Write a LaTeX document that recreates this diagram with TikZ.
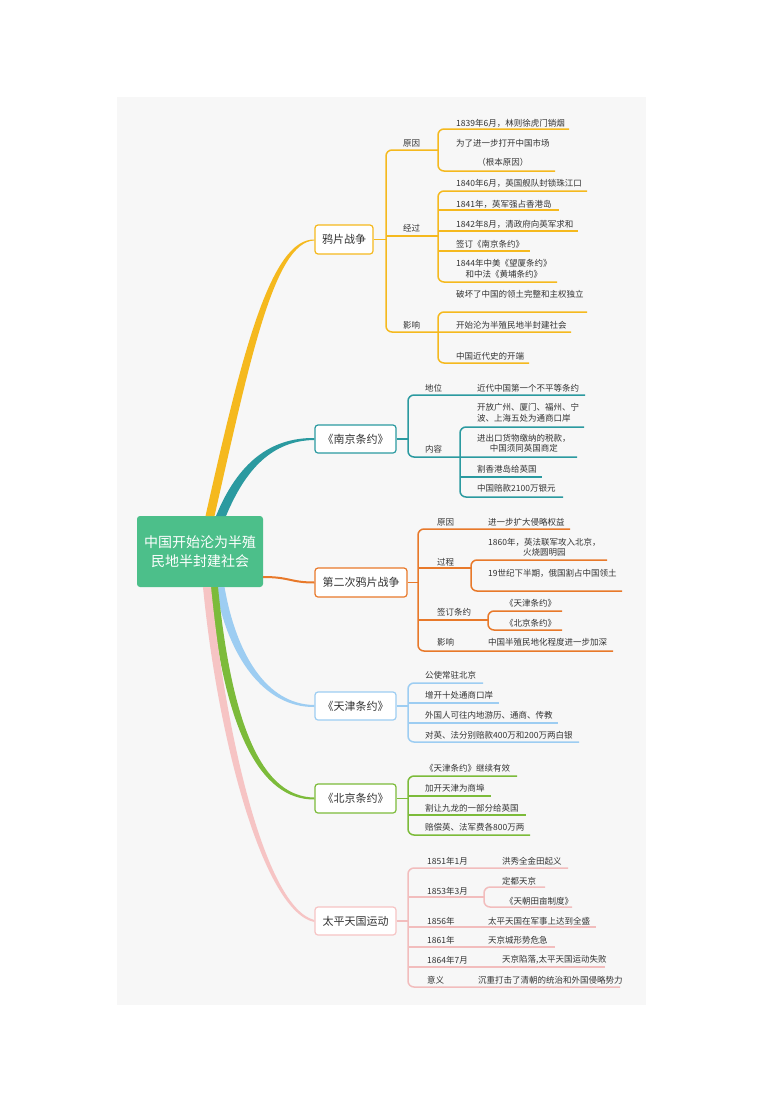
\documentclass[tikz,border=0pt]{standalone}
\usepackage{fontspec}
\setmainfont{Noto Sans CJK SC}
\definecolor{txt}{HTML}{333333}
\definecolor{bg}{HTML}{F7F7F7}
\definecolor{rootc}{HTML}{4CBF8A}
\definecolor{yel}{HTML}{F5B91E}
\definecolor{tea}{HTML}{2B9AA0}
\definecolor{ora}{HTML}{E8792A}
\definecolor{blu}{HTML}{9DCDF2}
\definecolor{grn}{HTML}{7CBB3A}
\definecolor{pnk}{HTML}{F6C4C4}
\definecolor{pnkl}{HTML}{F2BDBD}
\tikzset{
  leaf/.style={anchor=west, inner sep=0pt, text=txt, font=\fontsize{8.5}{10.5}\selectfont},
  topic/.style={draw, fill=white, rounded corners=3pt, line width=1.2pt, text=txt,
    inner sep=0pt, font=\fontsize{11}{13}\selectfont, minimum height=29pt},
  ln/.style={line width=1.5pt, rounded corners=6pt},
  rootbox/.style={fill=rootc, rounded corners=3pt, text=white, align=center,
    font=\fontsize{14}{19}\selectfont, minimum width=126pt, minimum height=71pt, inner sep=0pt}
}
\begin{document}
\begin{tikzpicture}[x=1pt,y=-1pt]
\useasboundingbox (0,0) rectangle (780,1103);
\fill[white] (0,0) rectangle (780,1103);
\fill[bg] (117,97) rectangle (646,1005);

% root
\node[rootbox] (root) at (200,551.5) {中国开始沦为半殖\\民地半封建社会};

% topics
\node[topic, draw=yel, minimum width=58pt] (o1) at (344,239.5) {鸦片战争};
\node[topic, draw=tea, minimum width=81pt, minimum height=28pt] (n1) at (355.5,439) {《南京条约》};
\node[topic, draw=ora, minimum width=92pt] (s1) at (361,582.5) {第二次鸦片战争};
\node[topic, draw=blu, minimum width=81pt, minimum height=28pt] (t1) at (355.5,706) {《天津条约》};
\node[topic, draw=grn, minimum width=81pt] (b1) at (355.5,798.5) {《北京条约》};
\node[topic, draw=pnk, minimum width=81pt, minimum height=28pt] (p1) at (355.5,921) {太平天国运动};

% main branches (tapered)
\fill[yel] (205.5,516) .. controls (241,358) and (270,238.5) .. (o1.west) -- ([yshift=-1pt]o1.west)
  .. controls (274,241.5) and (249.5,362) .. (214.5,516) -- cycle;
\fill[tea] (216,516) .. controls (238,462) and (271,437.5) .. ([yshift=1pt]n1.west) -- ([yshift=-1pt]n1.west)
  .. controls (273,440.5) and (246,468) .. (226,516) -- cycle;
\draw[ora, line width=2pt] (root.east |- 0,577) .. controls (290,577) and (290,582.5) .. (s1.west);
\fill[blu] (215.5,587) .. controls (228,657) and (264,707.5) .. ([yshift=-1pt]t1.west) -- ([yshift=1pt]t1.west)
  .. controls (266,704.5) and (236,653) .. (224.5,587) -- cycle;
\fill[grn] (210,587) .. controls (224,732) and (261,800) .. ([yshift=-1pt]b1.west) -- ([yshift=1pt]b1.west)
  .. controls (263,797) and (232,728) .. (218,587) -- cycle;
\fill[pnk] (203,587) .. controls (218,742) and (264,912) .. ([yshift=-1pt]p1.west) -- ([yshift=1pt]p1.west)
  .. controls (266,908) and (226,738) .. (211,587) -- cycle;

% ===== 鸦片战争 =====
\begin{scope}[every node/.style={leaf}]
\node (oa) at (403,143) {原因};
\node (ob) at (403,228) {经过};
\node (oc) at (403,325) {影响};
\node (oa1) at (456,123) {1839年6月，林则徐虎门销烟};
\node[align=center] (oa2) at (456,153) {为了进一步打开中国市场\\[9pt]（根本原因）};
\node (ob1) at (456,183) {1840年6月，英国舰队封锁珠江口};
\node (ob2) at (456,204) {1841年，英军强占香港岛};
\node (ob3) at (456,224) {1842年8月，清政府向英军求和};
\node (ob4) at (456,244) {签订《南京条约》};
\node[align=center] (ob5) at (456,269) {1844年中美《望厦条约》\\和中法《黄埔条约》};
\node (oc0) at (456,294) {破坏了中国的领土完整和主权独立};
\node (oc1) at (456,325) {开始沦为半殖民地半封建社会};
\node (oc2) at (456,356) {中国近代史的开端};
\end{scope}
\begin{scope}[yel, ln]
\draw (o1.east) -- (386,239.5);
\draw (438,150) -- (386,150) -- (386,332) -- (571,332);
\draw (386,236) -- (438,236);
\draw (569,129) -- (438,129) -- (438,171) -- (555,171);
\draw (587,191) -- (438,191) -- (438,282) -- (557,282);
\draw (438,210) -- (559,210);
\draw (438,231) -- (578,231);
\draw (438,251) -- (530,251);
\draw (587,312) -- (438,312) -- (438,363) -- (529,363);
\end{scope}

% ===== 南京条约 =====
\begin{scope}[every node/.style={leaf}]
\node (na) at (425,388) {地位};
\node (nb) at (425,449) {内容};
\node (na1) at (477,388) {近代中国第一个不平等条约};
\node[align=left] (nb1) at (477,413) {开放广州、厦门、福州、宁\\波、上海五处为通商口岸};
\node[align=center] (nb2) at (477,443.5) {进出口货物缴纳的税款，\\中国须同英国商定};
\node (nb3) at (477,469) {割香港岛给英国};
\node (nb4) at (477,488) {中国赔款2100万银元};
\end{scope}
\begin{scope}[tea, ln]
\draw (n1.east) -- (408,439);
\draw (585,395) -- (408,395) -- (408,457) -- (577,457);
\draw (584,427) -- (460,427) -- (460,497) -- (563,497);
\draw (460,477) -- (542,477);
\end{scope}

% ===== 第二次鸦片战争 =====
\begin{scope}[every node/.style={leaf}]
\node (sa) at (437,522) {原因};
\node (sb) at (437,562) {过程};
\node (sc) at (437,612) {签订条约};
\node (sd) at (437,642) {影响};
\node (sa1) at (488,522) {进一步扩大侵略权益};
\node[align=center] (sb1) at (488,547.5) {1860年，英法联军攻入北京，\\火烧圆明园};
\node (sb2) at (488,573) {19世纪下半期，俄国割占中国领土};
\node (sc1) at (505,603) {《天津条约》};
\node (sc2) at (505,623) {《北京条约》};
\node (sd1) at (488,642) {中国半殖民地化程度进一步加深};
\end{scope}
\begin{scope}[ora, ln]
\draw (s1.east) -- (418,582.5);
\draw (570,529) -- (418,529) -- (418,651) -- (613,651);
\draw (418,568) -- (471,568);
\draw (607,560) -- (471,560) -- (471,591) -- (622,591);
\draw (418,620) -- (488,620);
\draw (562,611) -- (488,611) -- (488,630) -- (562,630);
\end{scope}

% ===== 天津条约 =====
\begin{scope}[every node/.style={leaf}]
\node (t1a) at (425,675) {公使常驻北京};
\node (t1b) at (425,695) {增开十处通商口岸};
\node (t1c) at (425,715) {外国人可往内地游历、通商、传教};
\node (t1d) at (425,735) {对英、法分别赔款400万和200万两白银};
\end{scope}
\begin{scope}[blu, ln]
\draw (t1.east) -- (408,706);
\draw (483,683) -- (408,683) -- (408,742) -- (579,742);
\draw (408,703) -- (499,703);
\draw (408,723) -- (558,723);
\end{scope}

% ===== 北京条约 =====
\begin{scope}[every node/.style={leaf}]
\node (b1a) at (425,768) {《天津条约》继续有效};
\node (b1b) at (425,788) {加开天津为商埠};
\node (b1c) at (425,808) {割让九龙的一部分给英国};
\node (b1d) at (425,827) {赔偿英、法军费各800万两};
\end{scope}
\begin{scope}[grn, ln]
\draw (b1.east) -- (408,798.5);
\draw (517,776) -- (408,776) -- (408,835) -- (530,835);
\draw (408,796) -- (491,796);
\draw (408,815) -- (526,815);
\end{scope}

% ===== 太平天国运动 =====
\begin{scope}[every node/.style={leaf}]
\node (pa) at (427,861) {1851年1月};
\node (pb) at (427,891) {1853年3月};
\node (pc) at (427,921) {1856年};
\node (pd) at (427,940) {1861年};
\node (pe) at (427,960) {1864年7月};
\node (pf) at (427,980) {意义};
\node (pa1) at (502,861) {洪秀全金田起义};
\node (pb1) at (502,881) {定都天京};
\node (pb2) at (505,901) {《天朝田亩制度》};
\node (pc1) at (488,921) {太平天国在军事上达到全盛};
\node (pd1) at (488,940) {天京城形势危急};
\node (pe1) at (502,960) {天京陷落,太平天国运动失败};
\node (pf1) at (478,980) {沉重打击了清朝的统治和外国侵略势力};
\end{scope}
\begin{scope}[pnkl, ln]
\draw (p1.east) -- (408,921);
\draw (568,868) -- (408,868) -- (408,987) -- (620,987);
\draw (408,897) -- (484,897);
\draw (545,887) -- (484,887) -- (484,907) -- (572,907);
\draw (408,927) -- (596,927);
\draw (408,947) -- (555,947);
\draw (408,967) -- (605,967);
\end{scope}
\end{tikzpicture}
\end{document}
